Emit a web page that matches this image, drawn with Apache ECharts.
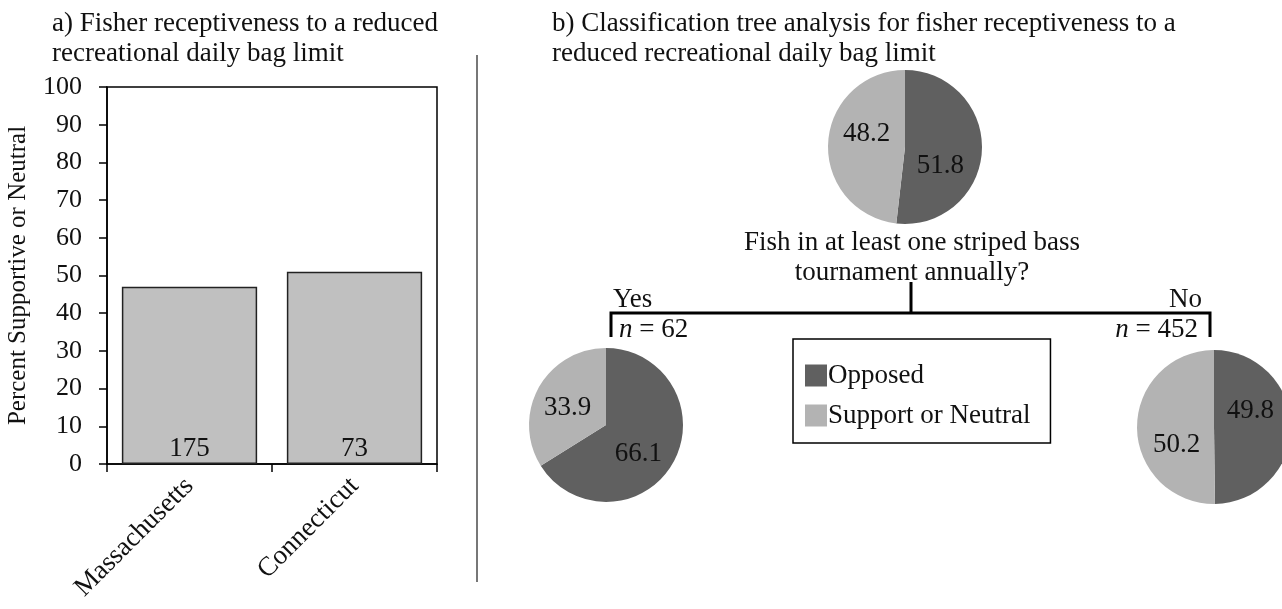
<!DOCTYPE html>
<html>
<head>
<meta charset="utf-8">
<script src="https://cdn.jsdelivr.net/npm/echarts@6/dist/echarts.min.js"></script>
<style>
html,body{margin:0;padding:0;background:#fff;}
#main{width:1282px;height:609px;}
</style>
</head>
<body>
<div id="main"></div>
<script>
// ---- data ----
const states = ['Massachusetts', 'Connecticut'];
const percentSupportive = [47, 51];
const sampleSizes = ['175', '73'];
const yTicks = { min: 0, max: 100, interval: 10 };

const sliceNames = ['Opposed', 'Support or Neutral'];
const overallPie = [51.8, 48.2];
const yesPie = [66.1, 33.9];
const noPie = [49.8, 50.2];
const yesN = 62;
const noN = 452;

// ---- style ----
const FONT = 'Liberation Serif';
const DARK = '#606060';
const LIGHT = '#b3b3b3';
// label nudges [dx, dy] to mimic the original label placement
const labelNudges = {
  overall: [[-6, 17], [3, -11]],
  yes: [[-4, 9], [-2, 3]],
  no: [[-5, -16], [4, 18]]
};

function pieSeries(name, values, center) {
  return {
    type: 'pie',
    name: name,
    center: center,
    radius: 77,
    startAngle: 90,
    clockwise: true,
    silent: true,
    animation: false,
    itemStyle: { borderWidth: 0 },
    label: {
      show: true, position: 'inner', formatter: '{c}',
      fontFamily: FONT, fontSize: 27, color: '#111'
    },
    labelLine: { show: false },
    data: sliceNames.map((n, i) => ({
      name: n, value: values[i],
      itemStyle: { color: i === 0 ? DARK : LIGHT },
      label: { offset: labelNudges[name][i] }
    }))
  };
}

const chart = echarts.init(document.getElementById('main'));
chart.setOption({
  backgroundColor: '#fff',
  animation: false,
  title: [
    {
      text: 'a) Fisher receptiveness to a reduced\nrecreational daily bag limit',
      left: 47, top: 4,
      textStyle: { fontFamily: FONT, fontSize: 27, fontWeight: 'normal', color: '#111', lineHeight: 30 }
    },
    {
      text: 'b) Classification tree analysis for fisher receptiveness to a\nreduced recreational daily bag limit',
      left: 547, top: 4,
      textStyle: { fontFamily: FONT, fontSize: 27, fontWeight: 'normal', color: '#111', lineHeight: 30 }
    }
  ],
  grid: {
    left: 107, right: 845, top: 87, bottom: 145,
    show: true, borderColor: '#000', borderWidth: 1.5, backgroundColor: 'transparent'
  },
  xAxis: {
    type: 'category',
    data: states,
    axisLine: { lineStyle: { color: '#000', width: 1.5 } },
    axisTick: { show: true, length: 8, lineStyle: { color: '#000', width: 1.5 } },
    axisLabel: { rotate: 45, fontFamily: FONT, fontSize: 27, color: '#111', margin: 18 }
  },
  yAxis: {
    type: 'value',
    min: yTicks.min, max: yTicks.max, interval: yTicks.interval,
    name: 'Percent Supportive or Neutral',
    nameLocation: 'middle',
    nameGap: 76,
    nameTextStyle: { fontFamily: FONT, fontSize: 25, color: '#111' },
    axisLine: { show: true, lineStyle: { color: '#000', width: 1.5 } },
    axisTick: { show: true, length: 8, lineStyle: { color: '#000', width: 1.5 } },
    splitLine: { show: false },
    axisLabel: { fontFamily: FONT, fontSize: 26, color: '#111', margin: 25 }
  },
  legend: {
    orient: 'vertical',
    left: 793, top: 339,
    data: sliceNames,
    icon: 'rect',
    itemWidth: 22, itemHeight: 22,
    itemGap: 13,
    padding: [23, 20, 14, 12],
    borderColor: '#000', borderWidth: 1.5,
    textStyle: { fontFamily: FONT, fontSize: 27, color: '#111', padding: [0, 0, 0, -4] },
    selectedMode: false
  },
  series: [
    {
      type: 'bar',
      data: percentSupportive,
      barCategoryGap: '18%',
      itemStyle: { color: '#c0c0c0', borderColor: '#222', borderWidth: 1.5 },
      label: {
        show: true, position: 'insideBottom', distance: 2,
        formatter: p => sampleSizes[p.dataIndex],
        fontFamily: FONT, fontSize: 27, color: '#111'
      },
      silent: true
    },
    pieSeries('overall', overallPie, [905, 147]),
    pieSeries('yes', yesPie, [606, 425]),
    pieSeries('no', noPie, [1214, 427])
  ],
  graphic: [
    { type: 'line', shape: { x1: 477, y1: 55, x2: 477, y2: 582 }, style: { stroke: '#777', lineWidth: 2 }, silent: true },
    {
      type: 'text', x: 912, y: 228,
      style: {
        text: 'Fish in at least one striped bass\ntournament annually?',
        fontFamily: FONT, fontSize: 27, fill: '#111', align: 'center', lineHeight: 30
      }
    },
    { type: 'polyline', shape: { points: [[911, 282], [911, 313]] }, style: { stroke: '#000', lineWidth: 3, fill: null } },
    { type: 'polyline', shape: { points: [[611, 337], [611, 313], [1210, 313], [1210, 337]] }, style: { stroke: '#000', lineWidth: 3, fill: null } },
    { type: 'text', x: 613, y: 286, style: { text: 'Yes', fontFamily: FONT, fontSize: 27, fill: '#111' } },
    { type: 'text', x: 1202, y: 286, style: { text: 'No', fontFamily: FONT, fontSize: 27, fill: '#111', align: 'right' } },
    {
      type: 'text', x: 619, y: 316,
      style: {
        text: '{i|n} = ' + yesN,
        fontFamily: FONT, fontSize: 27, fill: '#111',
        rich: { i: { fontFamily: FONT, fontSize: 27, fontStyle: 'italic', fill: '#111' } }
      }
    },
    {
      type: 'text', x: 1198, y: 316,
      style: {
        text: '{i|n} = ' + noN,
        fontFamily: FONT, fontSize: 27, fill: '#111', align: 'right',
        rich: { i: { fontFamily: FONT, fontSize: 27, fontStyle: 'italic', fill: '#111' } }
      }
    }
  ]
});
</script>
</body>
</html>
